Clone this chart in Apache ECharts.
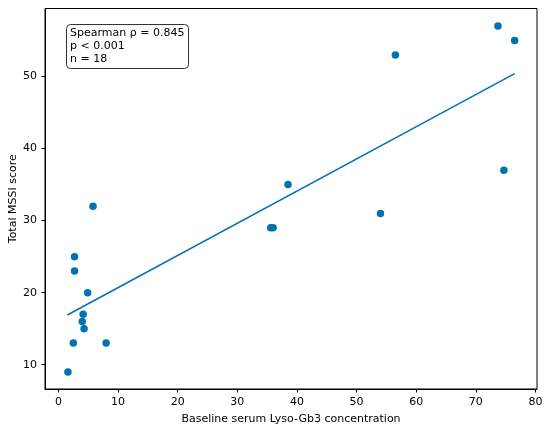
<!DOCTYPE html>
<html>
<head>
<meta charset="utf-8">
<script src="https://cdn.jsdelivr.net/npm/echarts@6/dist/echarts.min.js"></script>
<style>
  html, body { margin: 0; padding: 0; background: #fff; }
  #chart { width: 550px; height: 429px; }
</style>
</head>
<body>
<div id="chart"></div>
<script>
// 数据：基线血清 Lyso-Gb3 与 MSSI 总分
var lysoGb3 = [1.6, 2.5, 4.15, 4.0, 4.3, 4.9, 8.0, 2.7, 2.7, 5.8, 38.5, 35.6, 36.0, 54.0, 73.7, 76.5, 56.5, 74.7];
var mssiScore = [9, 13, 17, 16, 15, 20, 13, 25, 23, 32, 35, 29, 29, 31, 57, 55, 53, 37];
// 回归线两端
var fitX = [1.5, 76.5];
var fitY = [16.9, 50.4];
var xTicks = [0, 10, 20, 30, 40, 50, 60, 70, 80];
var yTicks = [10, 20, 30, 40, 50];
var statsText = ['Spearman ρ = 0.845', 'p < 0.001', 'n = 18'];

var blue = '#0173b2';
var font = 'DejaVu Sans';

var points = lysoGb3.map(function (x, i) { return [x, mssiScore[i]]; });
var fitLine = fitX.map(function (x, i) { return [x, fitY[i]]; });

var chart = echarts.init(document.getElementById('chart'));

var option = {
    animation: false,
    backgroundColor: '#fff',
    title: {
        text: statsText.join('\n'),
        left: 66,
        top: 24,
        padding: [3, 4, 3, 4],
        borderColor: '#333',
        borderWidth: 1,
        borderRadius: 4,
        backgroundColor: '#fff',
        textStyle: {
            fontFamily: font,
            fontSize: 11,
            fontWeight: 'normal',
            color: '#000',
            lineHeight: 13
        }
    },
    grid: {
        left: 45,
        right: 13,
        top: 8.5,
        bottom: 40,
        outerBoundsMode: 'none',
        show: true,
        borderColor: '#000',
        borderWidth: 1
    },
    xAxis: {
        type: 'value',
        min: -2.25,
        max: 80.25,
        name: 'Baseline serum Lyso-Gb3 concentration',
        nameLocation: 'middle',
        nameGap: 24.5,
        nameTextStyle: { fontFamily: font, fontSize: 11, color: '#000' },
        splitLine: { show: false },
        axisLine: { onZero: false, lineStyle: { color: '#000' } },
        axisTick: { length: 3.5, lineStyle: { color: '#000' }, customValues: xTicks },
        axisLabel: { fontFamily: font, fontSize: 11, color: '#000', margin: 7.5, customValues: xTicks }
    },
    yAxis: {
        type: 'value',
        min: 6.63,
        max: 59.44,
        name: 'Total MSSI score',
        nameLocation: 'middle',
        nameGap: 26,
        nameMoveOverlap: false,
        nameTextStyle: { fontFamily: font, fontSize: 11, color: '#000' },
        splitLine: { show: false },
        axisLine: { show: true, onZero: false, lineStyle: { color: '#000' } },
        axisTick: { show: true, length: 3.5, lineStyle: { color: '#000' }, customValues: yTicks },
        axisLabel: { fontFamily: font, fontSize: 11, color: '#000', margin: 8, customValues: yTicks }
    },
    series: [
        {
            name: 'data',
            type: 'scatter',
            data: points,
            symbolSize: 7.5,
            itemStyle: { color: blue, opacity: 1 }
        },
        {
            name: 'fit',
            type: 'line',
            data: fitLine,
            showSymbol: false,
            lineStyle: { color: blue, width: 1.5 }
        }
    ]
};

chart.setOption(option);
</script>
</body>
</html>
